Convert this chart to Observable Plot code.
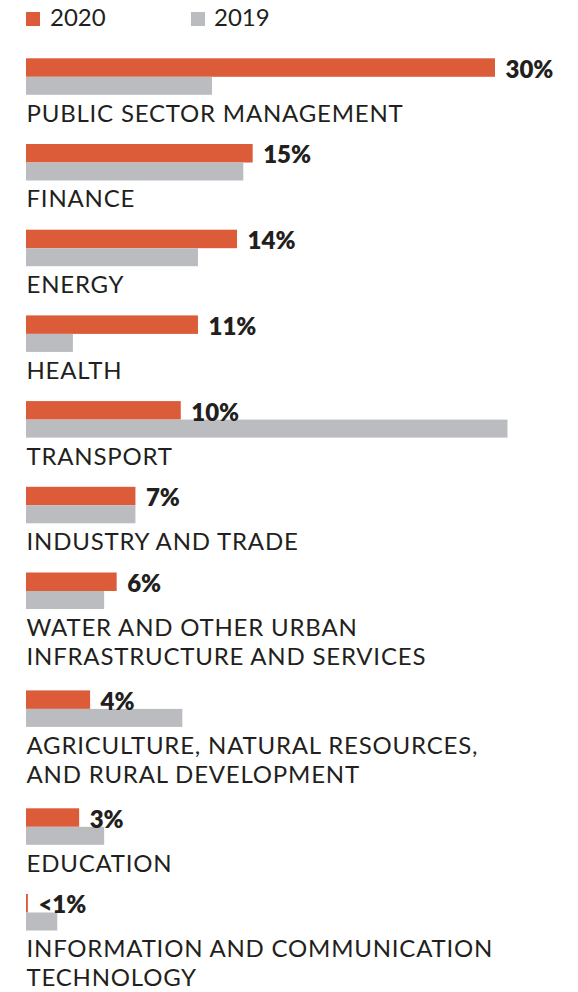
<!DOCTYPE html>
<html>
<head>
<meta charset="utf-8">
<script src="https://cdn.jsdelivr.net/npm/d3@7"></script>
<script src="https://cdn.jsdelivr.net/npm/@observablehq/plot@0.6"></script>
<style>
  html, body { margin: 0; padding: 0; background: #fff; overflow: hidden; }
  body { width: 578px; font-family: Lato, "Noto Sans", sans-serif; color: #231f20; }
  #legend { position: relative; height: 40px; }
  .sw { position: absolute; top: 11.7px; width: 14px; height: 14px; }
  .lt { position: absolute; top: 5px; font-size: 24px; line-height: 24px; }
  #chart svg { display: block; }
</style>
</head>
<body>
<div id="legend"></div>
<div id="chart"></div>
<script>
// ---- data ----
const categories = [
  "PUBLIC SECTOR MANAGEMENT",
  "FINANCE",
  "ENERGY",
  "HEALTH",
  "TRANSPORT",
  "INDUSTRY AND TRADE",
  "WATER AND OTHER URBAN\nINFRASTRUCTURE AND SERVICES",
  "AGRICULTURE, NATURAL RESOURCES,\nAND RURAL DEVELOPMENT",
  "EDUCATION",
  "INFORMATION AND COMMUNICATION\nTECHNOLOGY"
];
const share2020 = [30, 14.5, 13.5, 11, 9.9, 7, 5.8, 4.1, 3.4, 0.12];
const labels2020 = ["30%", "15%", "14%", "11%", "10%", "7%", "6%", "4%", "3%", "<1%"];
const share2019 = [11.9, 13.9, 11.0, 3.0, 30.8, 7.0, 5.0, 10.0, 5.0, 2.0];
const seriesNames = ["2020", "2019"];
const seriesColors = ["#dc5c3a", "#bbbcc0"];

// ---- legend ----
const legend = document.getElementById("legend");
const legendPos = [{sw: 26, tx: 50}, {sw: 191, tx: 214}];
seriesNames.forEach((name, i) => {
  const sw = document.createElement("div");
  sw.className = "sw";
  sw.style.left = legendPos[i].sw + "px";
  sw.style.background = seriesColors[i];
  const t = document.createElement("div");
  t.className = "lt";
  t.style.left = legendPos[i].tx + "px";
  t.textContent = name;
  legend.appendChild(sw);
  legend.appendChild(t);
});

// ---- layout ----
const bar2020 = 18.5, bar2019 = 18, labelGap = 6;
const groupBase = 85.7, extraLine = 32.2;
let offset = 0;
const rows = categories.map((c, i) => {
  const lines = c.split("\n").length;
  const r = {category: c, top: offset, v2020: share2020[i], v2019: share2019[i], label: labels2020[i]};
  offset += groupBase + (lines - 1) * extraLine;
  return r;
});
const bars = rows.flatMap(r => [
  {series: seriesNames[0], y1: r.top, y2: r.top + bar2020, value: r.v2020},
  {series: seriesNames[1], y1: r.top + bar2020, y2: r.top + bar2020 + bar2019, value: r.v2019}
]);

const marginTop = 18.3, height = 952;
const chart = Plot.plot({
  width: 578,
  height,
  marginLeft: 26,
  marginRight: 83,
  marginTop,
  marginBottom: 0,
  x: {domain: [0, 30], axis: null},
  y: {domain: [0, height - marginTop], reverse: true, axis: null},
  color: {domain: seriesNames, range: seriesColors},
  style: {fontFamily: "Lato, 'Noto Sans', sans-serif", background: "white", overflow: "visible"},
  marks: [
    Plot.rect(bars, {x1: () => 0, x2: "value", y1: "y1", y2: "y2", fill: "series"}),
    Plot.text(rows, {
      x: () => 0, y: r => r.top + bar2020 + bar2019 + labelGap,
      text: "category", textAnchor: "start", lineAnchor: "top", lineHeight: 1.2,
      fontSize: 24, fill: "#231f20"
    }),
    Plot.text(rows, {
      x: "v2020", y: r => r.top + bar2020 / 2, dx: 10, dy: 2,
      text: "label", textAnchor: "start", fontWeight: 800, fontSize: 24, fill: "#231f20"
    })
  ]
});
// widen the category labels' tracking to match the reference typeface
const textGroups = chart.querySelectorAll('g[aria-label="text"]');
if (textGroups.length) textGroups[0].setAttribute("letter-spacing", "0.8px");
document.getElementById("chart").appendChild(chart);
</script>
</body>
</html>
